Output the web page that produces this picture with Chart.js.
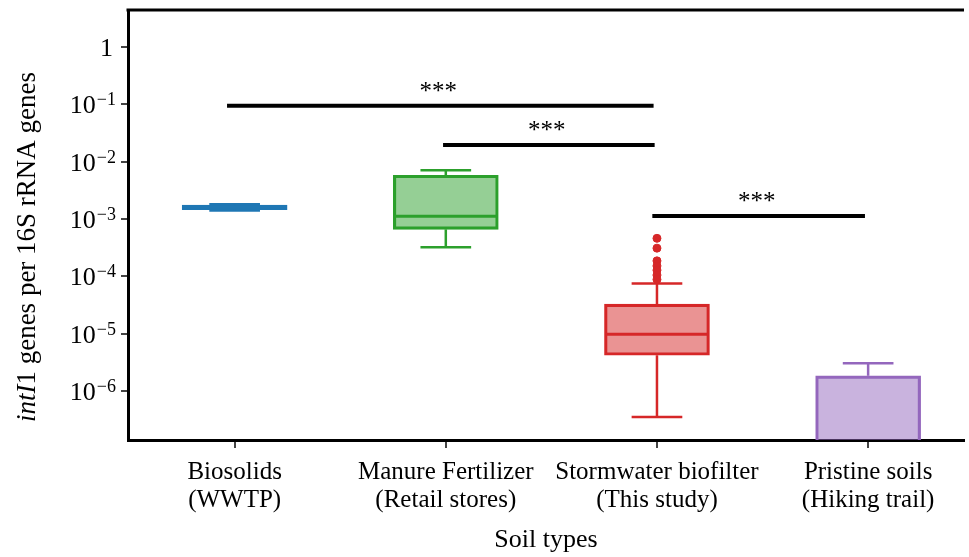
<!DOCTYPE html>
<html>
<head>
<meta charset="utf-8">
<script src="https://cdn.jsdelivr.net/npm/chart.js@4.4.1/dist/chart.umd.min.js"></script>
<style>
  body { margin: 0; background: #fff; }
  #wrap { width: 969px; height: 557px; }
</style>
</head>
<body>
<div id="wrap"><canvas id="graph" width="969" height="557"></canvas></div>
<script>
// soil types on the x axis
const categories = [
  ['Biosolids', '(WWTP)'],
  ['Manure Fertilizer', '(Retail stores)'],
  ['Stormwater biofilter', '(This study)'],
  ['Pristine soils', '(Hiking trail)']
]

// box plot stats, intI1 per 16S rRNA
const whiskerLow = [1.40e-3, 3.2e-4, 3.5e-7, 1e-8]
const q1 = [1.45e-3, 6.6e-4, 4.2e-6, 1e-8]
const median = [1.60e-3, 1.12e-3, 9.8e-6, 1e-8]
const q3 = [1.75e-3, 5.8e-3, 3.27e-5, 1.84e-6]
const whiskerHigh = [1.80e-3, 7.1e-3, 7.5e-5, 3.05e-6]
const outliers = [[], [], [4.6e-4, 3.1e-4, 1.86e-4, 1.52e-4, 1.28e-4, 1.05e-4, 8.8e-5], []]

// y ticks are decades
const yTickExponents = [-6, -5, -4, -3, -2, -1, 0]

// significance brackets: from category, to category, level, label
const sigFrom = [-0.036, 0.987, 1.978]
const sigTo = [1.984, 1.989, 2.985]
const sigLevel = [0.0946, 0.0195, 1.127e-3]
const sigLabel = ['***', '***', '***']

const boxColors = ['#1f77b4', '#2ca02c', '#d62728', '#9467bd']
const boxFills = ['rgba(31,119,180,0.85)', 'rgba(44,160,44,0.5)', 'rgba(214,39,40,0.5)', 'rgba(148,103,189,0.5)']

const FONT = '"Liberation Serif", "Times New Roman", serif'
Chart.defaults.font.family = FONT

function segment(x1, y1, x2, y2, color, width) {
  return {
    type: 'scatter',
    data: [{ x: x1, y: y1 }, { x: x2, y: y2 }],
    showLine: true,
    borderColor: color,
    borderWidth: width,
    pointRadius: 0,
    order: 1
  }
}

const datasets = []

// boxes (q1..q3)
datasets.push({
  type: 'bar',
  data: categories.map((c, i) => ({ x: i, y: [q1[i], q3[i]] })),
  backgroundColor: boxFills,
  borderColor: boxColors,
  borderWidth: 2.5,
  borderSkipped: false,
  barThickness: 105,
  order: 2
})

// whiskers, caps, medians
categories.forEach((c, i) => {
  const col = boxColors[i]
  datasets.push(segment(i, whiskerLow[i], i, q1[i], col, 2.5))
  datasets.push(segment(i, q3[i], i, whiskerHigh[i], col, 2.5))
  datasets.push(segment(i - 0.12, whiskerLow[i], i + 0.12, whiskerLow[i], col, 2.5))
  datasets.push(segment(i - 0.12, whiskerHigh[i], i + 0.12, whiskerHigh[i], col, 2.5))
  datasets.push(segment(i - 0.245, median[i], i + 0.245, median[i], col, 3))
})

// outliers
categories.forEach((c, i) => {
  if (!outliers[i].length) return
  datasets.push({
    type: 'scatter',
    data: outliers[i].map(v => ({ x: i, y: v })),
    backgroundColor: boxColors[i],
    borderColor: boxColors[i],
    pointRadius: 4,
    order: 0
  })
})

// significance lines
sigLevel.forEach((lvl, k) => {
  datasets.push(segment(sigFrom[k], lvl, sigTo[k], lvl, '#000', 4))
})

const decorate = {
  id: 'decorate',
  afterDraw(chart) {
    const { ctx, chartArea, scales } = chart
    ctx.save()

    // top frame line
    ctx.strokeStyle = '#000'
    ctx.lineWidth = 3
    ctx.beginPath()
    ctx.moveTo(chartArea.left - 1.5, chartArea.top)
    ctx.lineTo(chartArea.right, chartArea.top)
    ctx.stroke()

    // y tick labels with superscripts
    ctx.fillStyle = '#000'
    ctx.textBaseline = 'alphabetic'
    const right = 116
    yTickExponents.forEach(e => {
      const y = scales.y.getPixelForValue(Math.pow(10, e))
      if (e === 0) {
        ctx.font = '26px ' + FONT
        ctx.textAlign = 'right'
        ctx.fillText('1', right - 3, y + 9)
        return
      }
      const sup = '\u2212' + Math.abs(e)
      ctx.font = '18px ' + FONT
      const w = ctx.measureText(sup).width
      ctx.textAlign = 'left'
      ctx.fillText(sup, right - w, y + 1)
      ctx.font = '26px ' + FONT
      ctx.textAlign = 'right'
      ctx.fillText('10', right - w - 1, y + 9)
    })

    // y axis title, intI in italics
    const parts = [
      { t: 'intI', f: 'italic 27px ' + FONT },
      { t: '1 genes per 16S rRNA genes', f: '27px ' + FONT }
    ]
    let total = 0
    parts.forEach(p => { ctx.font = p.f; p.w = ctx.measureText(p.t).width; total += p.w })
    ctx.translate(35, 247)
    ctx.rotate(-Math.PI / 2)
    ctx.textAlign = 'left'
    let x = -total / 2
    parts.forEach(p => { ctx.font = p.f; ctx.fillText(p.t, x, 0); x += p.w })
    ctx.restore()

    // significance stars
    ctx.save()
    ctx.fillStyle = '#000'
    ctx.font = '25px ' + FONT
    ctx.textAlign = 'center'
    ctx.textBaseline = 'alphabetic'
    sigLabel.forEach((s, k) => {
      const xm = scales.x.getPixelForValue((sigFrom[k] + sigTo[k]) / 2) - 2
      const ym = scales.y.getPixelForValue(sigLevel[k])
      ctx.fillText(s, xm, ym - 7)
    })
    ctx.restore()
  }
}

const cfg = {
  type: 'scatter',
  data: { datasets: datasets },
  options: {
    responsive: false,
    animation: false,
    events: [],
    layout: { padding: { top: 10, right: 0, bottom: 0, left: 0 } },
    plugins: { legend: { display: false }, tooltip: { enabled: false } },
    scales: {
      x: {
        type: 'linear',
        offset: false,
        min: -0.505,
        max: 3.454,
        afterBuildTicks: scale => { scale.ticks = categories.map((c, i) => ({ value: i })) },
        afterFit: scale => { scale.height = 117 },
        ticks: {
          autoSkip: false,
          maxRotation: 0,
          padding: 11,
          color: '#000',
          font: { size: 25, lineHeight: 1.1 },
          callback: v => categories[v]
        },
        grid: { offset: false, drawOnChartArea: false, drawTicks: true, tickLength: 8, color: '#444', lineWidth: 2 },
        border: { display: true, color: '#000', width: 3 },
        title: {
          display: true,
          text: 'Soil types',
          color: '#000',
          font: { size: 26, lineHeight: 1.2 },
          padding: { top: 0, bottom: 1 }
        }
      },
      y: {
        type: 'logarithmic',
        min: 1.396e-7,
        max: 4.42,
        afterBuildTicks: scale => { scale.ticks = yTickExponents.map(e => ({ value: Math.pow(10, e) })) },
        afterFit: scale => { scale.width = 128 },
        ticks: { display: false },
        grid: { drawOnChartArea: false, drawTicks: true, tickLength: 7, color: '#444', lineWidth: 2 },
        border: { display: true, color: '#000', width: 3 }
      }
    }
  },
  plugins: [decorate]
}

new Chart(document.querySelector('#graph'), cfg)
</script>
</body>
</html>
